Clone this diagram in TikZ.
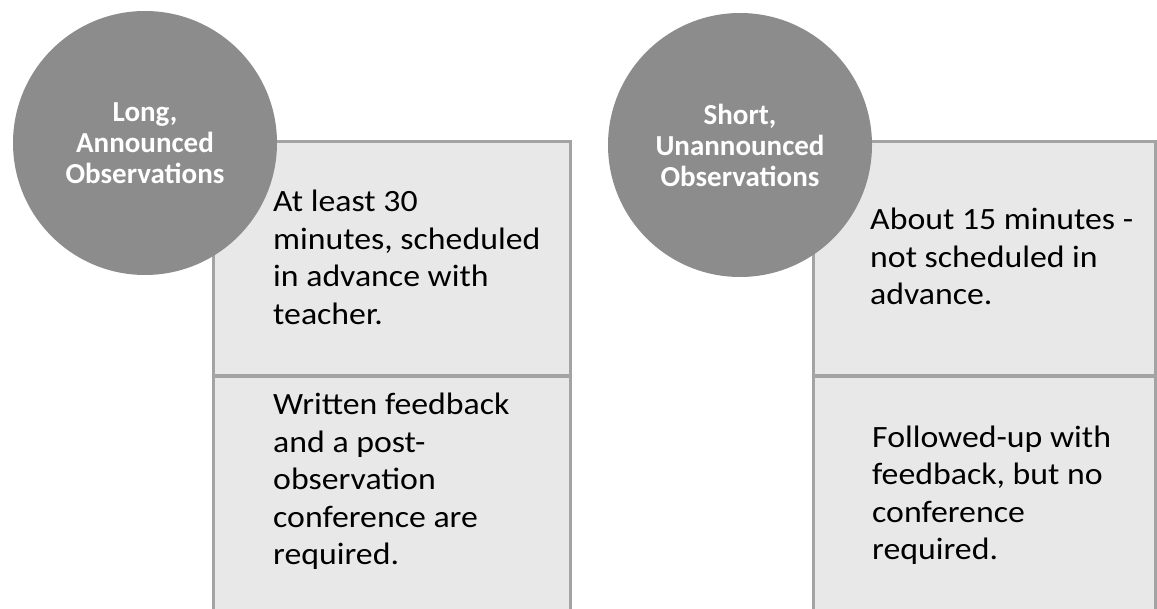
\documentclass[tikz,border=0pt]{standalone}
\usepackage{fontspec}
\setmainfont{Carlito}
\newfontfamily\boxfont{Carlito}[FakeStretch=1.09]
\newcommand\txtlines[1]{\begin{tabular}[t]{@{}l@{}}#1\end{tabular}}
\definecolor{circfill}{HTML}{8C8C8C}
\definecolor{panelfill}{HTML}{E8E8E8}
\definecolor{paneldraw}{HTML}{A3A3A3}
\begin{document}
\begin{tikzpicture}[x=1pt,y=-1pt,
  panel/.style={draw=paneldraw,line width=3pt,fill=panelfill,rectangle,anchor=north west,inner sep=0pt,outer sep=0pt},
  head/.style={circle,fill=circfill,draw=none,minimum size=264pt,inner sep=0pt,align=center,text=white,font=\bfseries\fontsize{29}{31}\selectfont},
  txt/.style={anchor=base west,inner sep=0pt,text=black,font=\boxfont\fontsize{31}{37.5}\selectfont}]
\useasboundingbox (0,0) rectangle (1157,609);
\clip (0,0) rectangle (1157,609);
% left group
\node[panel,minimum width=357pt,minimum height=234pt] (lt) at (213,142) {};
\node[panel,minimum width=357pt,minimum height=250pt] (lb) at (213,377) {};
\node[head] (lc) at (145,143) {Long,\\Announced\\Observations};
\node[txt] (ltt) at (273,212) {\txtlines{At least 30\\minutes, scheduled\\in advance with\\teacher.}};
\node[txt] (lbt) at (273,415) {\txtlines{Written feedback\\and a post-\\observation\\conference are\\required.}};
% right group
\node[panel,minimum width=342pt,minimum height=234pt] (rt) at (813,142) {};
\node[panel,minimum width=342pt,minimum height=250pt] (rb) at (813,377) {};
\node[head] (rc) at (740,145) {Short,\\Unannounced\\Observations};
\node[txt] (rtt) at (870,230) {\txtlines{About 15 minutes -\\not scheduled in\\advance.}};
\node[txt] (rbt) at (872,447) {\txtlines{Followed-up with\\feedback, but no\\conference\\required.}};
\end{tikzpicture}
\end{document}
